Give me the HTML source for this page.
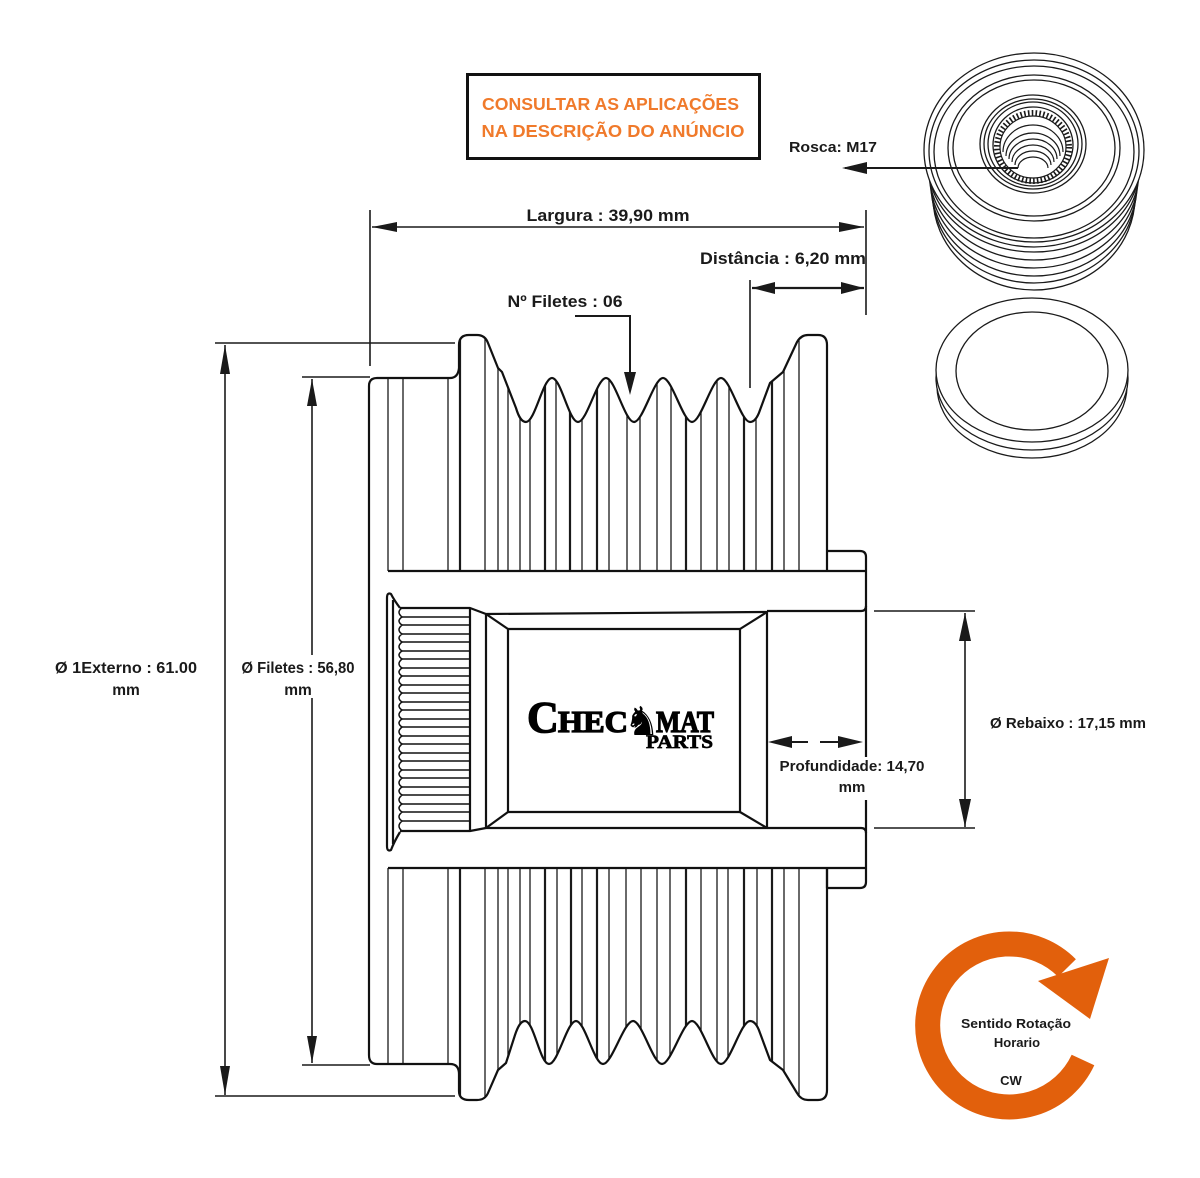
<!DOCTYPE html>
<html>
<head>
<meta charset="utf-8">
<style>
html,body{margin:0;padding:0;background:#fff;}
svg{display:block;}
.lbl{font-family:"Liberation Sans",sans-serif;font-weight:bold;fill:#1a1a1a;}
</style>
</head>
<body>
<svg width="1200" height="1178" viewBox="0 0 1200 1178" xmlns="http://www.w3.org/2000/svg">
<rect width="1200" height="1178" fill="#fff"/>
<defs>
<clipPath id="ct">
<path d="M369,571 L369,386 Q369,378 377,378 L450,378 Q458,378 459,368 L459,345 Q459,335 469,335 L477,335 Q485,335 488,343 L498,368 L502,372 L516,408 C519,418 522,422 526,422 C535,422 543,378 552,378 C561,378 569,422 578,422 C587,422 597,378 606,378 C615,378 625,422 634,422 C643,422 654,378 663,378 C672,378 683,422 692,422 C701,422 712,378 721,378 C730,378 741,422 750,422 C755,422 758,416 760,410 L770,383 L783,372 L797,342 Q801,335 808,335 L818,335 Q827,335 827,345 L827,571 Z"/>
</clipPath>
<clipPath id="cb">
<path d="M369,868 L369,1055 Q369,1064 377,1064 L450,1064 Q459,1064 459,1074 L459,1091 Q459,1100 469,1100 L477,1100 Q485,1100 488,1093 L498,1070 L506,1063 L515,1035 C518,1026 521,1021 525,1021 C534,1021 540,1064 549,1064 C558,1064 567,1021 576,1021 C585,1021 594,1064 603,1064 C612,1064 624,1021 633,1021 C642,1021 653,1064 662,1064 C671,1064 683,1021 692,1021 C701,1021 712,1064 721,1064 C730,1064 741,1021 750,1021 C755,1021 758,1027 760,1033 L770,1060 L783,1070 L797,1093 Q801,1100 808,1100 L818,1100 Q827,1100 827,1090 L827,868 Z"/>
</clipPath>
</defs>

<!-- Orange box -->
<rect x="467.5" y="74.5" width="292" height="84" fill="none" stroke="#111" stroke-width="3"/>
<text x="610.5" y="110" text-anchor="middle" textLength="257" lengthAdjust="spacingAndGlyphs" font-family="Liberation Sans, sans-serif" font-weight="bold" font-size="17.5" fill="#F07A2B">CONSULTAR AS APLICAÇÕES</text>
<text x="613" y="137" text-anchor="middle" textLength="263" lengthAdjust="spacingAndGlyphs" font-family="Liberation Sans, sans-serif" font-weight="bold" font-size="17.5" fill="#F07A2B">NA DESCRIÇÃO DO ANÚNCIO</text>

<!-- Stripes top -->
<g clip-path="url(#ct)" stroke="#1a1a1a" stroke-width="1.3">
<path d="M388,330V571 M403,330V571 M448,330V571 M460,330V571 M485,330V571 M498,330V571 M508,330V571 M520,330V571 M530,330V571 M545,330V571 M556,330V571 M570,330V571 M582,330V571 M597,330V571 M609,330V571 M627,330V571 M640,330V571 M657,330V571 M671,330V571 M686,330V571 M701,330V571 M717,330V571 M729,330V571 M744,330V571 M756,330V571 M772,330V571 M784,330V571 M799,330V571"/>
</g>
<g clip-path="url(#ct)" stroke="#1a1a1a" stroke-width="2.2">
<path d="M460,330V571 M545,330V571 M570,330V571 M597,330V571 M686,330V571 M744,330V571 M772,330V571"/>
</g>
<!-- Stripes bottom -->
<g clip-path="url(#cb)" stroke="#1a1a1a" stroke-width="1.3">
<path d="M388,868V1105 M403,868V1105 M448,868V1105 M460,868V1105 M485,868V1105 M498,868V1105 M508,868V1105 M520,868V1105 M530,868V1105 M545,868V1105 M557,868V1105 M571,868V1105 M582,868V1105 M597,868V1105 M609,868V1105 M626,868V1105 M641,868V1105 M657,868V1105 M670,868V1105 M686,868V1105 M701,868V1105 M717,868V1105 M728,868V1105 M744,868V1105 M757,868V1105 M772,868V1105 M784,868V1105 M799,868V1105"/>
</g>
<g clip-path="url(#cb)" stroke="#1a1a1a" stroke-width="2.2">
<path d="M460,868V1105 M545,868V1105 M571,868V1105 M597,868V1105 M686,868V1105 M744,868V1105 M772,868V1105"/>
</g>

<!-- Profiles -->
<g fill="none" stroke="#111" stroke-width="2.2" stroke-linejoin="round">
<path d="M369,1055 L369,386 Q369,378 377,378 L450,378 Q458,378 459,368 L459,345 Q459,335 469,335 L477,335 Q485,335 488,343 L498,368 L502,372 L516,408 C519,418 522,422 526,422 C535,422 543,378 552,378 C561,378 569,422 578,422 C587,422 597,378 606,378 C615,378 625,422 634,422 C643,422 654,378 663,378 C672,378 683,422 692,422 C701,422 712,378 721,378 C730,378 741,422 750,422 C755,422 758,416 760,410 L770,383 L783,372 L797,342 Q801,335 808,335 L818,335 Q827,335 827,345 L827,571"/>
<path d="M369,1055 Q369,1064 377,1064 L450,1064 Q459,1064 459,1074 L459,1091 Q459,1100 469,1100 L477,1100 Q485,1100 488,1093 L498,1070 L506,1063 L515,1035 C518,1026 521,1021 525,1021 C534,1021 540,1064 549,1064 C558,1064 567,1021 576,1021 C585,1021 594,1064 603,1064 C612,1064 624,1021 633,1021 C642,1021 653,1064 662,1064 C671,1064 683,1021 692,1021 C701,1021 712,1064 721,1064 C730,1064 741,1021 750,1021 C755,1021 758,1027 760,1033 L770,1060 L783,1070 L797,1093 Q801,1100 808,1100 L818,1100 Q827,1100 827,1090 L827,868"/>
<!-- bore region horizontal lines -->
<path d="M388,571 L866,571 M388,868 L866,868"/>
<!-- hub -->
<path d="M827,551 L860,551 Q866,551 866,557 L866,757 M866,800 L866,882 Q866,888 860,888 L827,888 L827,868"/>
<!-- left plate -->
<path d="M387,846 L387,598 Q387,592 391,594 Q394,600 400,608"/>
<path d="M393,600 L393,844"/>
<path d="M387,846 Q387,852 391,850 Q394,842 400,832"/>
<!-- spline block -->
<path d="M400,608 L470,608 L486,614 L767,612 L767,828 L486,828 L470,831 L400,831"/>
<path d="M470,608 L470,831 M486,614 L486,828"/>
<path d="M508,629 L740,629 L740,812 L508,812 Z"/>
<path d="M486,614 L508,629 M767,612 L740,629 M486,828 L508,812 M767,828 L740,812"/>
<!-- bore -->
<path d="M767,611 L861,611 Q866,611 866,606 M767,828 L861,828 Q866,828 866,833"/>
</g>
<!-- splines scallops and lines -->
<g fill="none" stroke="#111" stroke-width="1.5">
<path d="M402,608 Q396,612 402,617 Q396,621 402,625 Q396,630 402,634 Q396,638 402,642 Q396,647 402,651 Q396,655 402,659 Q396,664 402,668 Q396,672 402,676 Q396,681 402,685 Q396,689 402,693 Q396,698 402,702 Q396,706 402,710 Q396,715 402,719 Q396,723 402,727 Q396,732 402,736 Q396,740 402,744 Q396,749 402,753 Q396,757 402,761 Q396,766 402,770 Q396,774 402,778 Q396,783 402,787 Q396,791 402,795 Q396,800 402,804 Q396,808 402,812 Q396,817 402,821 Q396,826 402,831"/>
<path d="M402,617H470 M402,625H470 M402,634H470 M402,642H470 M402,651H470 M402,659H470 M402,668H470 M402,676H470 M402,685H470 M402,693H470 M402,702H470 M402,710H470 M402,719H470 M402,727H470 M402,736H470 M402,744H470 M402,753H470 M402,761H470 M402,770H470 M402,778H470 M402,787H470 M402,795H470 M402,804H470 M402,812H470 M402,821H470"/>
</g>

<!-- Logo -->
<g stroke="#000" stroke-width="1.3" fill="#000">
<text x="527" y="732" font-family="Liberation Serif, serif" font-weight="bold" font-size="44">C</text>
<text x="558" y="732" textLength="70" lengthAdjust="spacingAndGlyphs" font-family="Liberation Serif, serif" font-weight="bold" font-size="31">HEC</text>
<text x="656" y="732" textLength="58" lengthAdjust="spacingAndGlyphs" font-family="Liberation Serif, serif" font-weight="bold" font-size="31">MAT</text>
<text x="646" y="748" textLength="67" lengthAdjust="spacingAndGlyphs" font-family="Liberation Serif, serif" font-weight="bold" font-size="19" stroke-width="0.7">PARTS</text>
</g>
<text x="624" y="735" font-family="DejaVu Sans, sans-serif" font-size="40" fill="#000">♞</text>

<!-- Dimension lines -->
<g stroke="#1a1a1a" stroke-width="1.6" fill="none">
<path d="M370,210 L370,366 M866,210 L866,315 M372,227 L864,227"/>
<path d="M750,280 L750,388"/>
<path d="M752,288 L864,288" stroke-width="2.2"/>
<path d="M575,316 L630,316 L630,380" stroke-width="2"/>
<path d="M215,343 L455,343 M215,1096 L455,1096 M225,345 L225,1095"/>
<path d="M302,377 L370,377 M302,1065 L370,1065 M312,379 L312,655 M312,698 L312,1063"/>
<path d="M874,611 L975,611 M874,828 L975,828 M965,613 L965,827"/>
<path d="M790,742 L808,742 M820,742 L840,742" stroke-width="2"/>
</g>
<g fill="#1a1a1a">
<polygon points="372,227 397,222 397,232"/>
<polygon points="864,227 839,222 839,232"/>
<polygon points="752,288 775,282 775,294"/>
<polygon points="864,288 841,282 841,294"/>
<polygon points="630,395 624,372 636,372"/>
<polygon points="225,345 220,374 230,374"/>
<polygon points="225,1095 220,1066 230,1066"/>
<polygon points="312,379 307,406 317,406"/>
<polygon points="312,1063 307,1036 317,1036"/>
<polygon points="965,613 959,641 971,641"/>
<polygon points="965,827 959,799 971,799"/>
<polygon points="768,742 792,736 792,748"/>
<polygon points="863,742 838,736 838,748"/>
</g>

<!-- Labels -->
<text class="lbl" x="608" y="221" text-anchor="middle" font-size="16.5" textLength="163" lengthAdjust="spacingAndGlyphs">Largura : 39,90 mm</text>
<text class="lbl" x="783" y="264" text-anchor="middle" font-size="16.5" textLength="166" lengthAdjust="spacingAndGlyphs">Distância : 6,20 mm</text>
<text class="lbl" x="565" y="307" text-anchor="middle" font-size="16.5" textLength="115" lengthAdjust="spacingAndGlyphs">Nº Filetes : 06</text>
<text class="lbl" x="833" y="152" text-anchor="middle" font-size="15" textLength="88" lengthAdjust="spacingAndGlyphs">Rosca: M17</text>
<text class="lbl" x="126" y="673" text-anchor="middle" font-size="15.5" textLength="142" lengthAdjust="spacingAndGlyphs">Ø 1Externo : 61.00</text>
<text class="lbl" x="126" y="695" text-anchor="middle" font-size="15.5">mm</text>
<text class="lbl" x="298" y="673" text-anchor="middle" font-size="15.5" textLength="113" lengthAdjust="spacingAndGlyphs">Ø Filetes : 56,80</text>
<text class="lbl" x="298" y="695" text-anchor="middle" font-size="15.5">mm</text>
<text class="lbl" x="1068" y="728" text-anchor="middle" font-size="15" textLength="156" lengthAdjust="spacingAndGlyphs">Ø Rebaixo : 17,15 mm</text>
<text class="lbl" x="852" y="771" text-anchor="middle" font-size="15" textLength="145" lengthAdjust="spacingAndGlyphs">Profundidade: 14,70</text>
<text class="lbl" x="852" y="792" text-anchor="middle" font-size="15">mm</text>

<!-- Isometric pulley top-right -->
<g stroke="#1a1a1a" stroke-width="1.3" fill="#fff">
<ellipse cx="1034" cy="197" rx="101" ry="93"/>
<ellipse cx="1034" cy="191" rx="102" ry="92"/>
<ellipse cx="1034" cy="185" rx="103" ry="91"/>
<ellipse cx="1034" cy="178" rx="104" ry="90"/>
<ellipse cx="1034" cy="171" rx="105" ry="89"/>
<ellipse cx="1034" cy="164" rx="106" ry="88"/>
<ellipse cx="1034" cy="150" rx="110" ry="97"/>
<ellipse cx="1034" cy="151" rx="105" ry="91"/>
<ellipse cx="1034" cy="152" rx="100" ry="86"/>
<ellipse cx="1034" cy="148" rx="86" ry="73"/>
<ellipse cx="1034" cy="148" rx="81" ry="68"/>
<ellipse cx="1033" cy="144" rx="53" ry="49"/>
<ellipse cx="1033" cy="144" rx="49" ry="45"/>
<ellipse cx="1033" cy="144" rx="45" ry="42"/>
<ellipse cx="1033" cy="145" rx="40" ry="38"/>
</g>
<g fill="none" stroke="#1a1a1a">
<ellipse cx="1033" cy="147" rx="36" ry="34" stroke-width="6" stroke-dasharray="1.6 2.2"/>
<ellipse cx="1033" cy="147" rx="33" ry="31" stroke-width="1.2"/>
<g stroke-width="1.2">
<path d="M1003,152 A30,27 0 0 1 1063,152"/>
<path d="M1006,156 A27,23 0 0 1 1060,156"/>
<path d="M1009,159 A24,20 0 0 1 1057,159"/>
<path d="M1012,162 A21,17 0 0 1 1054,162"/>
<path d="M1015,165 A18,14 0 0 1 1051,165"/>
<path d="M1018,168 A15,11 0 0 1 1048,168"/>
</g>
</g>
<!-- Rosca leader (drawn over the pulley) -->
<path d="M845,168 L1018,168" stroke="#1a1a1a" stroke-width="2" fill="none"/>
<polygon points="842,168 867,162 867,174" fill="#1a1a1a"/>

<!-- cap -->
<g stroke="#1a1a1a" stroke-width="1.3" fill="#fff">
<ellipse cx="1032" cy="386" rx="95" ry="72"/>
<ellipse cx="1032" cy="378" rx="96" ry="72"/>
<ellipse cx="1032" cy="370" rx="96" ry="72"/>
<ellipse cx="1032" cy="371" rx="76" ry="59"/>
</g>

<!-- Rotation arrow -->
<path d="M1083,1060 A81.5,81.5 0 1 1 1067,968" fill="none" stroke="#E2600C" stroke-width="25"/>
<polygon points="1038,981 1109,958 1090,1019" fill="#E2600C"/>
<text class="lbl" x="1016" y="1028" text-anchor="middle" font-size="13" textLength="110" lengthAdjust="spacingAndGlyphs">Sentido Rotação</text>
<text class="lbl" x="1017" y="1047" text-anchor="middle" font-size="13">Horario</text>
<text class="lbl" x="1011" y="1085" text-anchor="middle" font-size="13">CW</text>
</svg>
</body>
</html>
